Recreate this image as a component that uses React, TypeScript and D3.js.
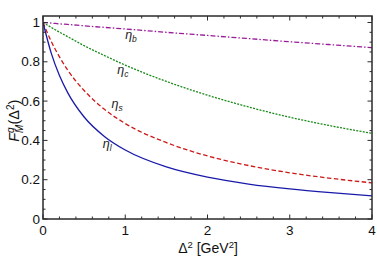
import React from 'react';
import * as d3 from 'd3';

// Δ² grid (GeV²) and the form factors
const deltaSq = [0, 0.1, 0.2, 0.3, 0.5, 0.75, 1, 1.5, 2, 2.5, 3, 3.5, 4];
const etaL = [1, 0.844, 0.73, 0.643, 0.519, 0.419, 0.351, 0.265, 0.213, 0.178, 0.153, 0.134, 0.118];
const etaS = [1, 0.904, 0.825, 0.758, 0.654, 0.557, 0.486, 0.389, 0.321, 0.272, 0.235, 0.207, 0.184];
const etaC = [1, 0.975, 0.951, 0.928, 0.882, 0.831, 0.783, 0.7, 0.63, 0.57, 0.518, 0.474, 0.436];
const etaB = [1, 0.997, 0.993, 0.99, 0.983, 0.975, 0.967, 0.95, 0.934, 0.918, 0.902, 0.887, 0.872];

const xMajor = [0, 1, 2, 3, 4];
const yMajor = [0, 0.2, 0.4, 0.6, 0.8, 1];
const yLabels = ['0', '0.2', '0.4', '0.6', '0.8', '1'];

const series = [
  { name: 'b', values: etaB, color: '#9a1a9a', dash: '5,2,1.5,2', label: [1.07, 0.915] },
  { name: 'c', values: etaC, color: '#1a8a1a', dash: '2,1.3', label: [0.97, 0.737] },
  { name: 's', values: etaS, color: '#cc1a1a', dash: '4.5,2.5', label: [0.9, 0.566] },
  { name: 'l', values: etaL, color: '#1a1aaa', dash: null, label: [0.78, 0.36] },
];

const W = 377;
const H = 258;

export default function App() {
  const x = d3.scaleLinear().domain([0, 4]).range([43, 372]);
  const y = d3.scaleLinear().domain([0, 1.033]).range([219, 16]);

  const line = d3
    .line<number>()
    .x((_, i) => x(deltaSq[i]))
    .y(d => y(d))
    .curve(d3.curveMonotoneX);

  const xMinor = d3.range(0, 4.001, 0.2);
  const yMinor = d3.range(0, 1.001, 0.05);
  const [x0, x1] = x.range();
  const [y0, y1] = y.range();
  const frame = '#2a2a2a';
  const font = 'Liberation Sans, Arial, sans-serif';

  return (
    <svg
      width={W}
      height={H}
      style={{ position: 'absolute', left: 0, top: 0, background: '#fff' }}
      fontFamily={font}
    >
      <defs>
        <clipPath id="plot">
          <rect x={x0} y={y1} width={x1 - x0} height={y0 - y1} />
        </clipPath>
      </defs>

      <g clipPath="url(#plot)">
        {series.map(s => (
          <path
            key={s.name}
            d={line(s.values) || ''}
            fill="none"
            stroke={s.color}
            strokeWidth={1.3}
            strokeDasharray={s.dash || undefined}
          />
        ))}
      </g>

      {series.map(s => (
        <text
          key={'lab' + s.name}
          x={x(s.label[0])}
          y={y(s.label[1])}
          fontSize={12.5}
          fontStyle="italic"
          fill="#222"
          textAnchor="middle"
        >
          η<tspan fontSize={8.5} dy={3}>{s.name}</tspan>
        </text>
      ))}

      {/* ticks, inward on all four sides */}
      <g stroke={frame} strokeWidth={1}>
        {xMinor.map(v => {
          const major = Math.abs(v - Math.round(v)) < 1e-6;
          const len = major ? 4.5 : 2.5;
          return (
            <g key={'xt' + v}>
              <line x1={x(v)} x2={x(v)} y1={y0} y2={y0 - len} />
              <line x1={x(v)} x2={x(v)} y1={y1} y2={y1 + len} />
            </g>
          );
        })}
        {yMinor.map(v => {
          const major = Math.abs(v * 5 - Math.round(v * 5)) < 1e-6;
          const len = major ? 4.5 : 2.5;
          return (
            <g key={'yt' + v}>
              <line x1={x0} x2={x0 + len} y1={y(v)} y2={y(v)} />
              <line x1={x1} x2={x1 - len} y1={y(v)} y2={y(v)} />
            </g>
          );
        })}
      </g>

      <rect
        x={x0}
        y={y1}
        width={x1 - x0}
        height={y0 - y1}
        fill="none"
        stroke={frame}
        strokeWidth={1.5}
      />

      {xMajor.map(v => (
        <text key={'xl' + v} x={x(v)} y={235} fontSize={13.5} textAnchor="middle" fill="#111">
          {v}
        </text>
      ))}
      {yMajor.map((v, i) => (
        <text
          key={'yl' + v}
          x={40}
          y={y(v) + 4.5}
          fontSize={13.5}
          textAnchor="end"
          fill="#111"
        >
          {yLabels[i]}
        </text>
      ))}

      <text x={208} y={253} fontSize={14} textAnchor="middle" fill="#111">
        Δ<tspan fontSize={9.5} dy={-5.5}>2</tspan>
        <tspan dy={5.5}> [GeV</tspan>
        <tspan fontSize={9.5} dy={-5.5}>2</tspan>
        <tspan dy={5.5}>]</tspan>
      </text>

      <text
        transform={`translate(19, ${y(0.5)}) rotate(-90)`}
        fontSize={14.5}
        textAnchor="middle"
        fill="#111"
      >
        <tspan fontStyle="italic">F</tspan>
        <tspan fontSize={10} fontStyle="italic" dy={-5.5}>q</tspan>
        <tspan fontSize={10} fontStyle="italic" dy={9} dx={-5.5}>M</tspan>
        <tspan dy={-3.5}>(Δ</tspan>
        <tspan fontSize={10} dy={-5.5}>2</tspan>
        <tspan dy={5.5}>)</tspan>
      </text>
    </svg>
  );
}
